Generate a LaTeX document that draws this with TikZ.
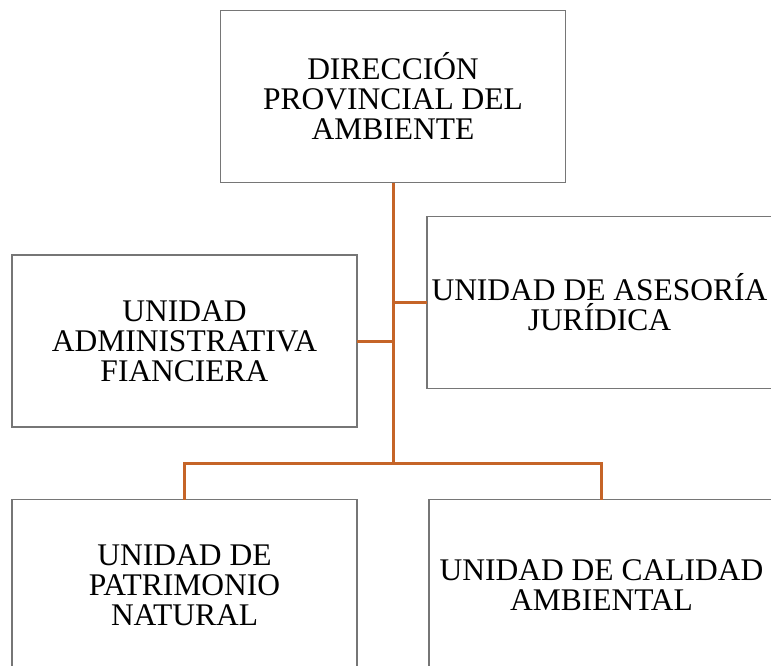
\documentclass[tikz,border=0pt]{standalone}
\usepackage{fontspec}
\setmainfont{Liberation Serif}
\usepackage{tikz}
\usetikzlibrary{positioning}
\definecolor{ramaorange}{RGB}{197, 100, 40}
\definecolor{bordegray}{RGB}{118, 118, 118}

\begin{document}
\begin{tikzpicture}[
    x=1pt, y=-1pt,
    unidad/.style={
        rectangle, draw=bordegray, line width=1.3pt, fill=white,
        minimum width=345pt, minimum height=172pt, outer sep=0pt,
        inner sep=2pt, align=center,
        font=\fontsize{31.5}{30}\selectfont
    },
    rama/.style={draw=ramaorange, line width=3pt},
]

\clip (0,0) rectangle (771,666);

% Direction box
\node[unidad] (dir) at (393,96.5) {DIRECCIÓN\\PROVINCIAL DEL\\AMBIENTE};

% Staff units
\node[unidad] (admin)    at (184.5,341)   {UNIDAD\\ADMINISTRATIVA\\FIANCIERA};
\node[unidad] (juridica) at (599.5,302.5) {UNIDAD DE ASESORÍA\\JURÍDICA};

% Line units
\node[unidad] (patrimonio) at (184.5,585.5) {UNIDAD DE\\PATRIMONIO\\NATURAL};
\node[unidad] (calidad)    at (601.5,585.5) {UNIDAD DE CALIDAD\\AMBIENTAL};

\coordinate (bus) at (dir.south |- 0,463);

% Trunk
\draw[rama] (dir.south) -- (bus);

% Side branches
\draw[rama] (juridica.west) -- (juridica.west -| dir.south);
\draw[rama] (admin.east) -- (admin.east -| dir.south);

% Bottom branches
\draw[rama] (bus) -| (patrimonio.north);
\draw[rama] (bus) -| (calidad.north);

\end{tikzpicture}
\end{document}
